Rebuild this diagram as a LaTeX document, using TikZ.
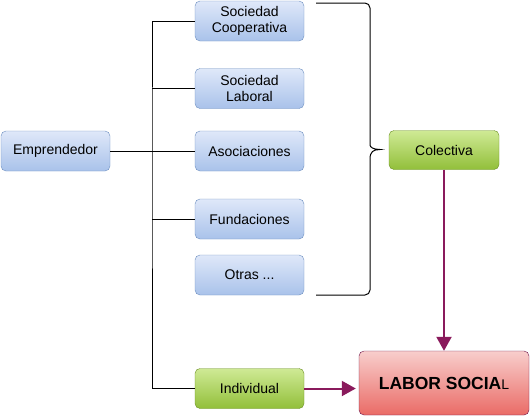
\documentclass[tikz,border=0pt]{standalone}
\usepackage{fontspec}
\setmainfont{Liberation Sans}
\usepackage{tikz}
\usetikzlibrary{arrows.meta, positioning}
\definecolor{blueline}{HTML}{6C8EBF}
\definecolor{bluetop}{HTML}{DFE8F9}
\definecolor{bluebot}{HTML}{A9C2EA}
\definecolor{greenline}{HTML}{6A8E23}
\definecolor{greentop}{HTML}{CFEA95}
\definecolor{greenbot}{HTML}{92BF3A}
\definecolor{redtop}{HTML}{F8CECC}
\definecolor{redbot}{HTML}{EA6B66}
\definecolor{plum}{HTML}{8A1A5C}
\tikzstyle{kind} = [rectangle, rounded corners=5pt, minimum width=109pt, minimum height=40pt, text centered, align=center, draw=blueline, top color=bluetop, bottom color=bluebot, font=\fontsize{14pt}{16pt}\selectfont, inner sep=1pt]
\tikzstyle{choice} = [kind, draw=greenline, top color=greentop, bottom color=greenbot]
\tikzstyle{goal} = [kind, draw=plum!80!black, top color=redtop, bottom color=redbot, minimum width=170pt, minimum height=64pt]
\tikzstyle{link} = [line width=1pt, draw=black]
\tikzstyle{arrow} = [line width=2pt, draw=plum, -{Triangle[length=14pt,width=15pt]}]

\begin{document}
\begin{tikzpicture}[x=1pt, y=-1pt]
\useasboundingbox (0,0) rectangle (530,416);

\node (emp) [kind] at (55.5,151) {Emprendedor};
\node (coop) [kind] at (249.5,21) {Sociedad\\Cooperativa};
\node (lab) [kind] at (249.5,88.5) {Sociedad\\Laboral};
\node (aso) [kind] at (249.5,151) {Asociaciones};
\node (fund) [kind] at (249.5,219) {Fundaciones};
\node (otras) [kind] at (249.5,275) {Otras ...};
\node (col) [choice, minimum width=110pt, minimum height=39pt] at (444,150) {Colectiva};
\node (ind) [choice] at (249.5,388.5) {Individual};
\node (labor) [goal] at (444,383) {\fontsize{17.5pt}{20pt}\selectfont\bfseries LABOR SOCIA\fontsize{14pt}{16pt}\selectfont\mdseries L};

\coordinate (j) at (152,151);
\draw [link] (emp) -- (aso);
\draw [link] (coop.west) -| (j) |- (ind.west);
\draw [link] (lab.west) -- (lab.west -| j);
\draw [link] (fund.west) -- (fund.west -| j);

% brace
\draw [link, rounded corners=5pt] (316,3) -| (370,140) [sharp corners] .. controls (370,147) and (373,149.5) .. (380,149.5) .. controls (373,149.5) and (370,152) .. (370,159) [rounded corners=5pt] |- (316,295);

\draw [arrow] (col) -- (labor);
\draw [arrow, shorten >=3pt] (ind) -- (labor.west |- ind);

\end{tikzpicture}
\end{document}
